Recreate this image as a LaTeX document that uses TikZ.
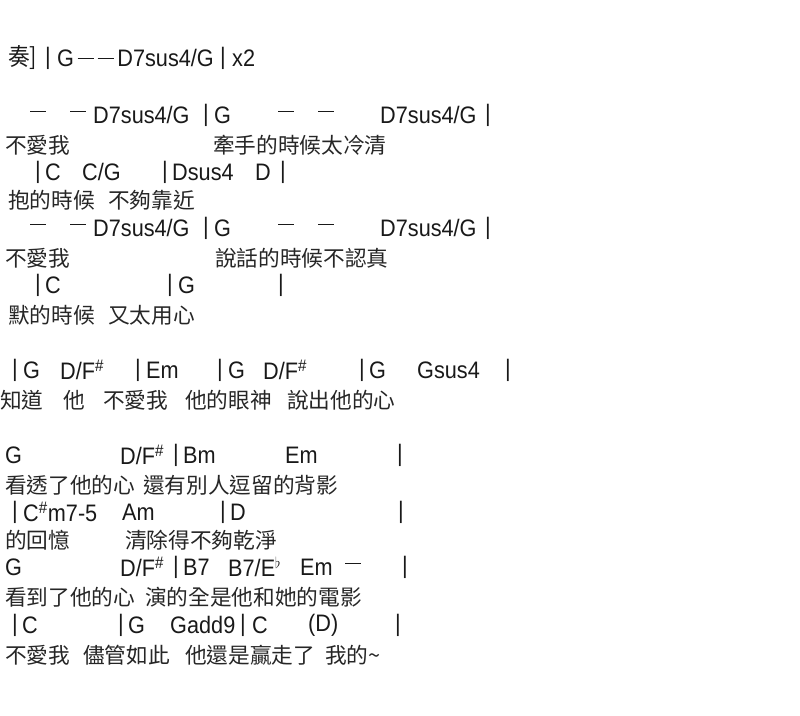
\documentclass[tikz,border=0pt]{standalone}
\usepackage{fontspec}
\setmainfont{Liberation Sans}
\newfontfamily\cjk{Noto Sans CJK TC}
\tikzset{
    chord/.style = {anchor=west, inner sep=0pt, font=\fontsize{18.5}{19}\selectfont, text=black!90, yscale=1.1},
    lyric/.style = {anchor=west, inner sep=0pt, font=\cjk\fontsize{18.5}{19}\selectfont, text=black!85},
}
\newcommand{\sh}{$^{\#}$}
\newcommand{\dsh}{\rule[0.3em]{0.75em}{0.07em}}
\begin{document}
\begin{tikzpicture}[x=0.03cm, y=-0.03cm]
    \useasboundingbox (0,0) rectangle (800,715);
    % intro
    \foreach \x/\t [count=\i] in {8/{\cjk 奏]}, 45/|, 57/{G\,\dsh\,\dsh\,D7sus4/G}, 220/|, 232/x2}
        \node[chord] (a\i) at (\x,58) {\t};
    % verse
    \foreach \y in {115,228}{
        \foreach \x/\t [count=\i] in {30/\dsh, 70/\dsh, 93/{D7sus4/G}, 203/|, 214/G, 278/\dsh, 318/\dsh, 380/{D7sus4/G}, 485/|}
            \node[chord] (v\y-\i) at (\x,\y) {\t};
    }
    \foreach \x/\t [count=\i] in {35/|, 45/C, 82/{C/G}, 162/|, 172/Dsus4, 255/D, 280/|}
        \node[chord] (b\i) at (\x,172) {\t};
    \foreach \x/\t [count=\i] in {35/|, 45/C, 167/|, 178/G, 278/|}
        \node[chord] (d\i) at (\x,285) {\t};
    \node[lyric] (l1) at (5,145) {不愛我};
    \node[lyric] (l2) at (213,145) {牽手的時候太冷清};
    \node[lyric] (l3) at (8,200) {抱的時候};
    \node[lyric] (l4) at (108,200) {不夠靠近};
    \node[lyric] (l5) at (5,258) {不愛我};
    \node[lyric] (l6) at (215,258) {說話的時候不認真};
    \node[lyric] (l7) at (8,315) {默的時候};
    \node[lyric] (l8) at (108,315) {又太用心};
    % chorus
    \foreach \x/\t [count=\i] in {12/|, 23/G, 60/{D/F\sh}, 135/|, 146/Em, 217/|, 228/G, 263/{D/F\sh}, 359/|, 369/G, 417/Gsus4, 505/|}
        \node[chord] (e\i) at (\x,370) {\t};
    \foreach \x/\t [count=\i] in {0/知道, 63/他, 103/不愛我, 185/他的眼神, 287/說出他的心}
        \node[lyric] (m\i) at (\x,400) {\t};
    \foreach \x/\t [count=\i] in {5/G, 120/{D/F\sh}, 173/|, 183/Bm, 285/Em, 397/|}
        \node[chord] (f\i) at (\x,455) {\t};
    \node[lyric] (n1) at (5,485) {看透了他的心};
    \node[lyric] (n2) at (143,485) {還有別人逗留的背影};
    \foreach \x/\t [count=\i] in {12/|, 23/{C\sh m7-5}, 122/Am, 220/|, 230/D, 398/|}
        \node[chord] (g\i) at (\x,512) {\t};
    \node[lyric] (o1) at (5,540) {的回憶};
    \node[lyric] (o2) at (125,540) {清除得不夠乾淨};
    \foreach \x/\t [count=\i] in {5/G, 120/{D/F\sh}, 173/|, 183/B7, 228/{B7/E$^{\flat}$}, 300/Em, 345/\dsh, 402/|}
        \node[chord] (h\i) at (\x,567) {\t};
    \node[lyric] (p1) at (5,597) {看到了他的心};
    \node[lyric] (p2) at (145,597) {演的全是他和她的電影};
    \foreach \x/\t [count=\i] in {12/|, 22/C, 118/|, 128/G, 170/Gadd9, 240/|, 252/C, 308/(D), 395/|}
        \node[chord] (k\i) at (\x,625) {\t};
    \foreach \x/\t [count=\i] in {5/不愛我, 83/儘管如此, 185/他還是贏走了, 325/我的\textasciitilde}
        \node[lyric] (q\i) at (\x,655) {\t};
\end{tikzpicture}
\end{document}
